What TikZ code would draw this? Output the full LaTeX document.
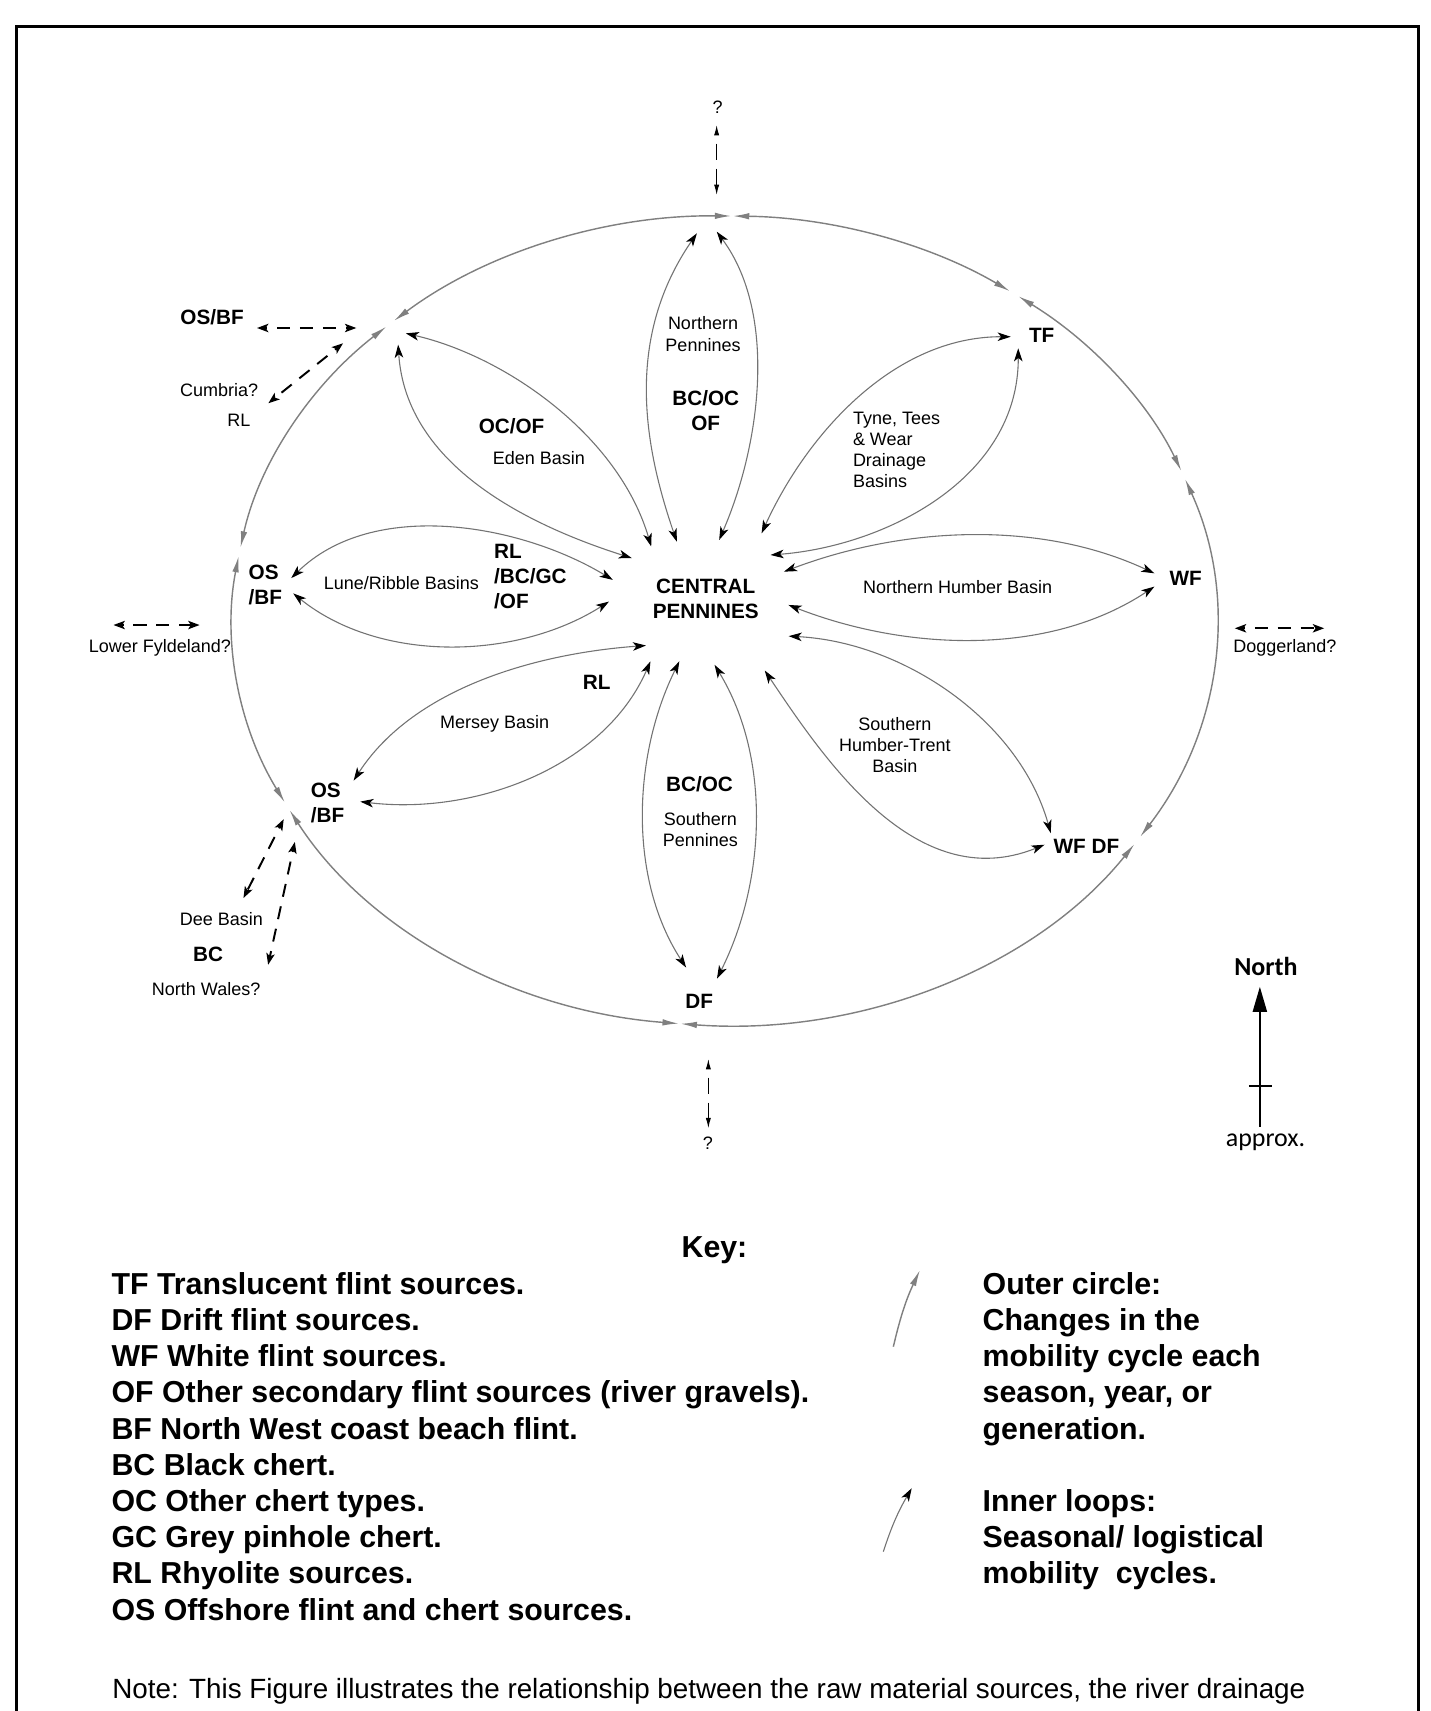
\documentclass[tikz,border=0pt]{standalone}
\usepackage{fontspec}
\setmainfont{Liberation Sans}
\newfontfamily\carlito{Carlito}
\usetikzlibrary{arrows.meta}
\definecolor{innergray}{gray}{0.45}
\definecolor{outergray}{gray}{0.5}
\tikzset{
  tipin/.tip={Stealth[length=6pt,width=3.9pt,inset=1.6pt,color=black]},
  tipout/.tip={Latex[length=7.5pt,width=3pt,color=outergray]},
  tipdash/.tip={Stealth[length=5.2pt,width=3.8pt,inset=1.2pt]},
  tipv/.tip={Latex[length=4.8pt,width=2.4pt]},
  loopline/.style={draw=innergray, line width=0.5pt, arrows={tipin-tipin}},
  outerarc/.style={draw=outergray, line width=0.65pt, arrows={tipout-tipout}},
  dasharrow/.style={draw=black, line width=0.9pt, dash pattern=on 6pt off 4.5pt, dash phase=5pt, arrows={tipdash-tipdash}},
  vdasharrow/.style={draw=black, line width=0.5pt, dash pattern=on 7.5pt off 4pt, dash phase=7.5pt, arrows={tipv-tipv}},
  lbl/.style={inner sep=0pt, outer sep=0pt},
  smalltxt/.style={lbl, font=\fontsize{8.25}{9.7}\selectfont},
  boldtxt/.style={lbl, font=\fontsize{9.5}{11.5}\selectfont\bfseries},
  keytxt/.style={lbl, anchor=west, text height=10pt, text depth=0pt, font=\fontsize{13.9}{16.6}\selectfont\bfseries},
}
\begin{document}
\begin{tikzpicture}[x=0.5pt,y=-0.5pt]
\useasboundingbox (0,0) rectangle (1311,1568.6);
\clip (0,0) rectangle (1311,1568.6);
% frame
\draw[line width=1.4pt] (15,24.5) rectangle (1300,1620);

% outer ellipse
\begin{scope}[shift={(664,569)}]
\foreach \a/\b in {-89/-54.5, -53.3/-21.7, -20.5/32.3, 33.5/95.1, 95.3/152.1, 153.3/189.2, 190.4/226.6, 227.8/270.8} {
  \draw[outerarc] (\a:451 and 371) arc[start angle=\a, end angle=\b, x radius=451, y radius=371];
}
\end{scope}

% loop end points
\coordinate (eA0) at (597,501);     \coordinate (eA3) at (372,305.6);
\coordinate (eB0) at (579.3,511.7); \coordinate (eB3) at (365,316);
\coordinate (nL0) at (620.5,496.6); \coordinate (nL3) at (638.9,213.9);
\coordinate (nR0) at (659.3,495);   \coordinate (nR3) at (657.1,212.4);
\coordinate (tA0) at (698.2,488.9); \coordinate (tA3) at (926.6,308.7);
\coordinate (tB0) at (706.4,508.8); \coordinate (tB3) at (933.5,319.3);
\coordinate (hA0) at (718.7,524.1); \coordinate (hA3) at (1058.3,525.6);
\coordinate (hB0) at (722.8,554.6); \coordinate (hB3) at (1058.3,537.8);
\coordinate (sA0) at (723,583.2);   \coordinate (sA3) at (963.3,763.7);
\coordinate (sB0) at (701.1,614.7); \coordinate (sB3) at (957.6,774.4);
\coordinate (pR0) at (655.1,609.5); \coordinate (pR3) at (657.3,897.2);
\coordinate (pL0) at (622.8,606.3); \coordinate (pL3) at (629,887);
\coordinate (mA0) at (592.2,591.8); \coordinate (mA3) at (324.2,715.6);
\coordinate (mB0) at (596.3,606.3); \coordinate (mB3) at (330.3,734.9);
\coordinate (lA0) at (561.8,531.6); \coordinate (lA3) at (267,530);
\coordinate (lB0) at (558.3,551.5); \coordinate (lB3) at (268.8,544);

% inner loops
\draw[loopline] (eA0) .. controls (567.3,399.6) and (464.4,326.9) .. (eA3);
\draw[loopline] (eB0) .. controls (486.6,482.2) and (372.1,427.9) .. (eB3);
\draw[loopline] (nL0) .. controls (589.9,407.5) and (572.9,309.8) .. (nL3);
\draw[loopline] (nR0) .. controls (697.1,408.3) and (713.2,288) .. (nR3);
\draw[loopline] (tA0) .. controls (739.7,397.9) and (819.3,308.5) .. (tA3);
\draw[loopline] (tB0) .. controls (810.6,500.8) and (934,439.3) .. (tB3);
\draw[loopline] (hA0) .. controls (826.6,483.2) and (952,476) .. (hA3);
\draw[loopline] (hB0) .. controls (829.5,596.3) and (960.6,602.8) .. (hB3);
\draw[loopline] (sA0) .. controls (828.2,588.6) and (934.4,660.6) .. (sA3);
\draw[loopline] (sB0) .. controls (755.7,696.1) and (839.9,822.1) .. (sB3);
\draw[loopline] (pR0) .. controls (707.4,695.4) and (701.7,808.8) .. (pR3);
\draw[loopline] (pL0) .. controls (579.7,693.4) and (576.1,806) .. (pL3);
\draw[loopline] (mA0) .. controls (494.2,598.9) and (379.8,629.5) .. (mA3);
\draw[loopline] (mB0) .. controls (553.8,704.1) and (434.4,747.5) .. (mB3);
\draw[loopline] (lA0) .. controls (476.1,479.8) and (341.7,456.9) .. (lA3);
\draw[loopline] (lB0) .. controls (472.9,605.7) and (348,607.7) .. (lB3);

% dashed arrows
\coordinate (dT0) at (657,114.6);   \coordinate (dT1) at (657,178.8);
\coordinate (dB0) at (649.4,970.8); \coordinate (dB1) at (649.4,1034.4);
\coordinate (dO0) at (235.6,300.7); \coordinate (dO1) at (326.7,300.7);
\coordinate (dC0) at (314.5,314.7); \coordinate (dC1) at (246,369.7);
\coordinate (dL0) at (104,573);     \coordinate (dL1) at (183,573);
\coordinate (dD0) at (1132,576);    \coordinate (dD1) at (1214,576);
\coordinate (dE0) at (260.1,751);   \coordinate (dE1) at (223.2,823.3);
\coordinate (dF0) at (270.3,771.9); \coordinate (dF1) at (245.8,884.5);
\draw[vdasharrow] (dT0) -- (dT1);
\draw[vdasharrow] (dB0) -- (dB1);
\draw[dasharrow] (dO0) -- (dO1);
\draw[dasharrow] (dC0) -- (dC1);
\draw[dasharrow] (dL0) -- (dL1);
\draw[dasharrow] (dD0) -- (dD1);
\draw[dasharrow] (dE0) -- (dE1);
\draw[dasharrow] (dF0) -- (dF1);

% labels
\node[smalltxt] (qtop) at (658,98) {?};
\node[smalltxt] (qbot) at (649,1048) {?};
\node[boldtxt] (osbfA) at (194.5,291) {OS/BF};
\node[smalltxt] (cumbria) at (201,358) {Cumbria?};
\node[smalltxt] (rlA) at (219,385) {RL};
\node[boldtxt] (ocof) at (469,391) {OC/OF};
\node[smalltxt] (eden) at (494,420) {Eden Basin};
\node[smalltxt, align=center] (npenn) at (644.5,306.3) {Northern\\Pennines};
\node[boldtxt, align=center] (bcocof) at (647,376.6) {BC/OC\\OF};
\node[boldtxt] (tf) at (955,307) {TF};
\node[smalltxt, align=left, anchor=west] (tyne) at (782,412.5) {Tyne, Tees\\\& Wear\\Drainage\\Basins};
\node[boldtxt, align=left, anchor=west] (osbfB) at (228,536.5) {OS\\/BF};
\node[smalltxt] (lune) at (368,534.6) {Lune/Ribble Basins};
\node[boldtxt, align=left, anchor=west] (rlbc) at (453,528.7) {RL\\/BC/GC\\/OF};
\node[boldtxt, align=center] (central) at (647,549.4) {CENTRAL\\PENNINES};
\node[boldtxt] (wf) at (1087,530) {WF};
\node[smalltxt] (nhumber) at (878,538) {Northern Humber Basin};
\node[smalltxt] (lowerf) at (146.5,594) {Lower Fyldeland?};
\node[smalltxt] (dogger) at (1178,594) {Doggerland?};
\node[boldtxt] (rlB) at (547,625.6) {RL};
\node[smalltxt] (mersey) at (453.5,664) {Mersey Basin};
\node[smalltxt, align=center] (shumber) at (820.4,683.2) {Southern\\Humber-Trent\\Basin};
\node[boldtxt, align=left, anchor=west] (osbfC) at (285,736.5) {OS\\/BF};
\node[boldtxt] (bcoc) at (641.3,719) {BC/OC};
\node[smalltxt, align=center] (spenn) at (642,760.6) {Southern\\Pennines};
\node[boldtxt] (wfdf) at (996,776) {WF DF};
\node[smalltxt] (dee) at (203,843) {Dee Basin};
\node[boldtxt] (bcA) at (190.7,875) {BC};
\node[smalltxt] (nwales) at (189,907) {North Wales?};
\node[boldtxt] (df) at (641,918) {DF};

% north arrow
\node[lbl, font=\carlito\bfseries\fontsize{11.9}{14}\selectfont] (north) at (1160.5,886) {North};
\node[lbl, font=\carlito\fontsize{11.9}{14}\selectfont] (approx) at (1160.2,1047) {approx.};
\coordinate (nb) at (1155,1032.9); \coordinate (nt) at (1155,904.6);
\draw[line width=1pt, arrows={-Triangle[length=11.5pt,width=6.4pt]}] (nb) -- (nt);
\coordinate (cb0) at (1145,995.3); \coordinate (cb1) at (1165.8,995.3);
\draw[line width=1pt] (cb0) -- (cb1);

% key
\node[keytxt, anchor=center] (keyhead) at (655,1143) {Key:};
\node[keytxt] (k1) at (102.3,1176.5) {TF Translucent flint sources.};
\node[keytxt] (k2) at (102.3,1209.7) {DF Drift flint sources.};
\node[keytxt] (k3) at (102.3,1242.9) {WF White flint sources.};
\node[keytxt] (k4) at (102.3,1276.1) {OF Other secondary flint sources (river gravels).};
\node[keytxt] (k5) at (102.3,1309.3) {BF North West coast beach flint.};
\node[keytxt] (k6) at (102.3,1342.5) {BC Black chert.};
\node[keytxt] (k7) at (102.3,1375.7) {OC Other chert types.};
\node[keytxt] (k8) at (102.3,1408.9) {GC Grey pinhole chert.};
\node[keytxt] (k9) at (102.3,1442.1) {RL Rhyolite sources.};
\node[keytxt] (k10) at (102.3,1475.3) {OS Offshore flint and chert sources.};
\node[keytxt] (r1) at (900.9,1176.5) {Outer circle:};
\node[keytxt] (r2) at (900.9,1209.7) {Changes in the};
\node[keytxt] (r3) at (900.9,1242.9) {mobility cycle each};
\node[keytxt] (r4) at (900.9,1276.1) {season, year, or};
\node[keytxt] (r5) at (900.9,1309.3) {generation.};
\node[keytxt] (r6) at (900.9,1375.7) {Inner loops:};
\node[keytxt] (r7) at (900.9,1408.9) {Seasonal/ logistical};
\node[keytxt] (r8) at (900.9,1442.1) {mobility\ \ cycles.};
\coordinate (kg0) at (819,1234.6); \coordinate (kg1) at (843.4,1164.3);
\draw[draw=outergray, line width=0.65pt, arrows={-tipout}] (kg0) to[bend left=6] (kg1);
\coordinate (kb0) at (809.8,1422.5); \coordinate (kb1) at (835.8,1364.4);
\draw[draw=innergray, line width=0.5pt, arrows={-tipin}] (kb0) to[bend left=6] (kb1);

% note
\node[lbl, anchor=west, text height=9.2pt, text depth=0pt, font=\fontsize{12.75}{15}\selectfont] (note) at (103,1548) {Note: This Figure illustrates the relationship between the raw material sources, the river drainage};
\end{tikzpicture}
\end{document}
